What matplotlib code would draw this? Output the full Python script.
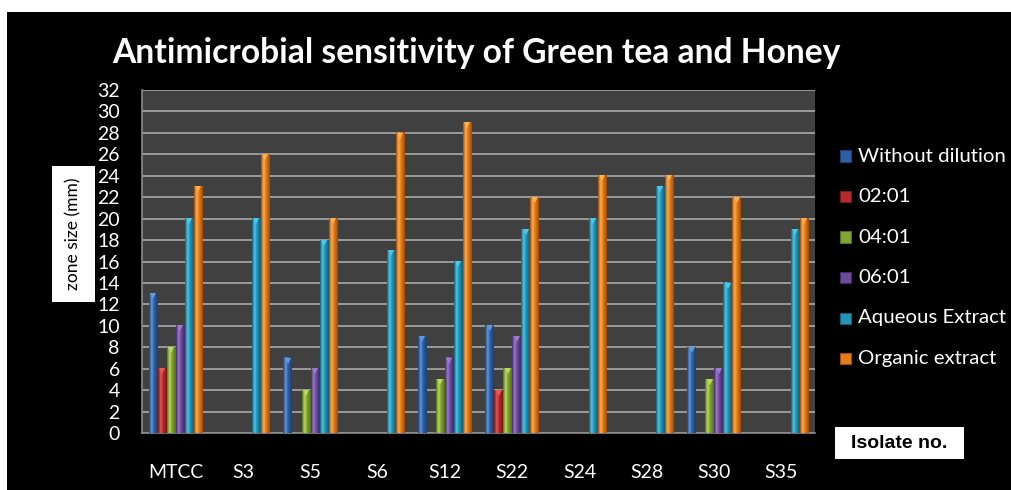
import numpy as np
import matplotlib.pyplot as plt
import matplotlib as mpl
from matplotlib.colors import LinearSegmentedColormap
from matplotlib.patches import Rectangle

isolates = ['MTCC', 'S3', 'S5', 'S6', 'S12', 'S22', 'S24', 'S28', 'S30', 'S35']
series = ['Without dilution', '02:01', '04:01', '06:01', 'Aqueous Extract', 'Organic extract']

without_dilution = [13, 0, 7, 0, 9, 10, 0, 0, 8, 0]
ratio_2_1 = [6, 0, 0, 0, 0, 4, 0, 0, 0, 0]
ratio_4_1 = [8, 0, 4, 0, 5, 6, 0, 0, 5, 0]
ratio_6_1 = [10, 0, 6, 0, 7, 9, 0, 0, 6, 0]
aqueous = [20, 20, 18, 17, 16, 19, 20, 23, 14, 19]
organic = [23, 26, 20, 28, 29, 22, 24, 24, 22, 20]
values = [without_dilution, ratio_2_1, ratio_4_1, ratio_6_1, aqueous, organic]

# (dark, light, mid) shades for the cylinder-style shading
shades = [
    ('#1d3f73', '#6399de', '#2f60a6'),
    ('#7a1616', '#e45a5a', '#b42c2c'),
    ('#55701c', '#b8da5e', '#82a432'),
    ('#43296b', '#9e7ccc', '#6c4c99'),
    ('#135f78', '#50c8e4', '#2494b6'),
    ('#a04c08', '#fdb052', '#e57c1a'),
]

mpl.rcParams['font.family'] = ['Lato', 'DejaVu Sans']

fig = plt.figure(figsize=(10.11, 4.90), dpi=100, facecolor='white')
fig.add_artist(Rectangle((7 / 1011, 0), 1, 1 - 12 / 490, transform=fig.transFigure,
                         facecolor='black', edgecolor='none', zorder=0))

ax = fig.add_axes([142 / 1011, 1 - 433 / 490, 673 / 1011, 343 / 490])
ax.set_facecolor('#404040')

x = np.arange(len(isolates))
w = 0.134
grad = np.linspace(0, 1, 64).reshape(1, -1)
for i, (vals, (dark, light, mid)) in enumerate(zip(values, shades)):
    cmap = LinearSegmentedColormap.from_list(
        'cyl', [(0, dark), (0.3, light), (0.55, mid), (1, dark)])
    bars = ax.bar(x + (i - 2.5) * w, vals, width=w * 0.94, color=mid,
                  edgecolor='none', zorder=3)
    for b, v in zip(bars, vals):
        if v <= 0:
            continue
        bx, bw = b.get_x(), b.get_width()
        ax.imshow(grad, extent=[bx, bx + bw, 0, v], aspect='auto', cmap=cmap,
                  zorder=3.5, interpolation='bilinear')
        ax.plot(bx + bw / 2, v - 0.25, marker='v', markersize=4.5,
                color=light, markeredgewidth=0, zorder=4)

ax.set_xlim(-0.5, len(isolates) - 0.5)
ax.set_ylim(0, 32)
ax.set_yticks(np.arange(0, 33, 2))
ax.yaxis.grid(True, color='#9a9a9a', linewidth=1.4, zorder=1)
ax.set_axisbelow(True)
ax.tick_params(axis='y', length=0, pad=16, labelsize=14, labelcolor='white')
ax.set_xticks(x)
ax.set_xticklabels(isolates)
ax.tick_params(axis='x', length=0, pad=22, labelsize=14, labelcolor='white')
for s in ['top', 'right']:
    ax.spines[s].set_visible(False)
ax.spines['left'].set_color('#8a8a8a')
ax.spines['bottom'].set_color('#8a8a8a')
ax.spines['left'].set_linewidth(1.2)
ax.spines['bottom'].set_linewidth(1.2)

fig.text(476 / 1011, 1 - 53 / 490, 'Antimicrobial sensitivity of Green tea and Honey',
         ha='center', va='center', color='white', fontsize=24.2, fontweight='bold')

# y-axis title box
fig.add_artist(Rectangle((52 / 1011, 1 - 302 / 490), 43 / 1011, 136 / 490,
                         transform=fig.transFigure, facecolor='white',
                         edgecolor='none'))
fig.text(73 / 1011, 1 - 234 / 490, 'zone size (mm)', rotation=90, ha='center',
         va='center', color='black', fontsize=12.5)

# x-axis title box
fig.add_artist(Rectangle((835 / 1011, 1 - 459 / 490), 129 / 1011, 32 / 490,
                         transform=fig.transFigure, facecolor='white',
                         edgecolor='none'))
fig.text(899 / 1011, 1 - 443 / 490, 'Isolate no.', ha='center', va='center',
         color='black', fontsize=14, fontweight='bold',
         family=['Liberation Sans', 'DejaVu Sans'])

# legend
for k, (name, (dark, light, mid)) in enumerate(zip(series, shades)):
    yc = 156 + k * 40.5
    fig.add_artist(Rectangle((840 / 1011, 1 - (yc + 5.5) / 490), 11 / 1011, 11 / 490,
                             transform=fig.transFigure, facecolor=mid,
                             edgecolor=dark, linewidth=0.8))
    fig.text(858 / 1011, 1 - yc / 490, name, ha='left', va='center',
             color='white', fontsize=14.7)

fig.savefig('out.png', dpi=100, facecolor=fig.get_facecolor())
